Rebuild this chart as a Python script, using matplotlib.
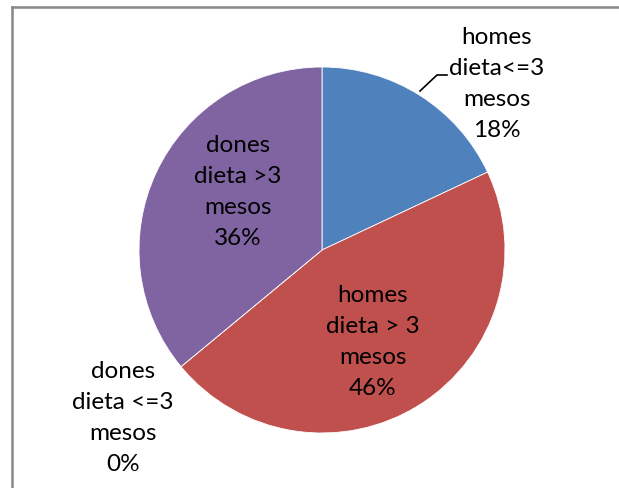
import matplotlib
matplotlib.use('Agg')
import matplotlib.pyplot as plt
from matplotlib.lines import Line2D

# shares of patients by sex and diet length
categories = ['homes\ndieta<=3\nmesos', 'homes\ndieta > 3\nmesos',
              'dones\ndieta <=3\nmesos', 'dones\ndieta >3\nmesos']
percents = [18, 46, 0, 36]
colors = ['#4F81BD', '#C0504D', '#9BBB59', '#8064A2']

# label centres in pixel coords (x from left, y from top)
label_pos = [(497, 84), (373, 342), (123, 418), (238, 192)]

W, H = 619, 488
fig = plt.figure(figsize=(W / 100, H / 100), dpi=100)
ax = fig.add_axes([0, 0, 1, 1])

ax.pie(percents, colors=colors, startangle=90, counterclock=False,
       center=(322, H - 250), radius=183,
       wedgeprops=dict(edgecolor='white', linewidth=0.6))
ax.set_xlim(0, W)
ax.set_ylim(0, H)
ax.set_aspect('equal')
ax.axis('off')

for cat, p, (x, y) in zip(categories, percents, label_pos):
    ax.text(x, H - y, cat + '\n' + str(p) + '%', ha='center', va='center',
            fontsize=17.5, family='Lato', linespacing=1.6, color='black')

# leader line for the small slice
ax.plot([420, 437, 447], [H - 91, H - 75, H - 75], color='black', lw=1.2)

# chart area border (top and left edges only, rest is cut off)
x0 = 11.5 / W
y0 = 1 - 7 / H
fig.add_artist(Line2D([x0, 1.0], [y0, y0], color='#888888', lw=1.8))
fig.add_artist(Line2D([x0, x0], [y0, 0.0], color='#888888', lw=1.8))

fig.savefig('out.png', dpi=100)
